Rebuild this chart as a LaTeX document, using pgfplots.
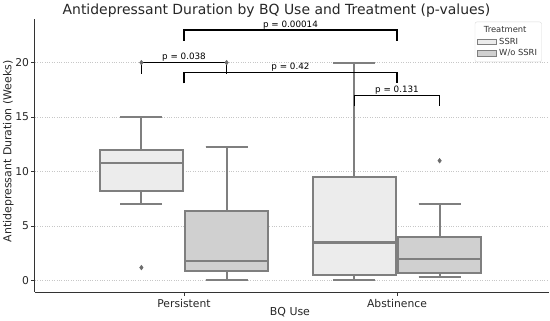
\documentclass[border=0pt]{standalone}
\usepackage{fontspec}
\setmainfont{DejaVu Sans}
\usepackage{pgfplots}
\pgfplotsset{compat=1.18}
\usepgfplotslibrary{statistics}
\definecolor{ssri}{HTML}{ECECEC}
\definecolor{wo}{HTML}{D0D0D0}
\definecolor{edge}{HTML}{7F7F7F}
\definecolor{spine}{HTML}{333333}
\begin{document}
\begin{tikzpicture}
\begin{axis}[
  at={(35bp,29bp)}, anchor=south west,
  scale only axis, width=514bp, height=273bp,
  xmin=-0.6995, xmax=1.7136, ymin=-1.04, ymax=24.0,
  boxplot/draw direction=y,
  axis x line*=bottom, axis y line*=left,
  axis line style={spine, line width=1bp},
  xtick={0,1}, xticklabels={Persistent,Abstinence},
  ytick={0,5,10,15,20},
  tick align=outside, major tick length=3.5bp,
  tick style={spine, line width=0.8bp},
  tick label style={font=\fontsize{10.8}{12}\selectfont, text=black!85},
  yticklabel style={xshift=1bp},
  /pgf/number format/assume math mode=true,
  ymajorgrids, major grid style={dotted, black!22, line width=0.7bp},
  xlabel={BQ Use}, ylabel={Antidepressant Duration (Weeks)},
  label style={font=\fontsize{11}{13}\selectfont, text=black!85},
  xlabel style={at={(axis description cs:0.496,0)}, anchor=center, yshift=-20bp},
  ylabel style={at={(axis description cs:-0.052,0.515)}, anchor=center},
  clip=false,
  legend style={at={(0.9858,0.990)}, anchor=north east, draw=black!15, rounded corners=2pt,
    font=\fontsize{8.4}{10}\selectfont, text=black!80, row sep=0pt, inner sep=2.5pt},
  legend cell align=left,
  wl/.style={draw=edge, line width=2.1bp, forget plot},
]
% legend
\addlegendimage{empty legend}
\addlegendentry{\hspace{-21pt}\makebox[54pt][c]{Treatment}}
\addlegendimage{legend image code/.code={\draw[sharp corners, draw=edge, fill=ssri, line width=0.8bp] (0bp,-2.8bp) rectangle (19bp,2.8bp);}}
\addlegendentry{SSRI}
\addlegendimage{legend image code/.code={\draw[sharp corners, draw=edge, fill=wo, line width=0.8bp] (0bp,-2.8bp) rectangle (19bp,2.8bp);}}
\addlegendentry{W/o SSRI}
% Persistent SSRI
\addplot[draw=edge, fill=ssri, line width=1.8bp, boxplot prepared={
  draw position=-0.2, box extend=0.39, whisker extend=0.197,
  lower whisker=7.0, lower quartile=8.2, median=10.8, upper quartile=12.0, upper whisker=15.0}]
  coordinates {};
\addplot[wl] coordinates {(-0.2,12.0) (-0.2,15.0)};
\addplot[wl] coordinates {(-0.2985,15.0) (-0.1015,15.0)};
\addplot[wl] coordinates {(-0.2,8.2) (-0.2,7.0)};
\addplot[wl] coordinates {(-0.2985,7.0) (-0.1015,7.0)};
\addplot[wl] coordinates {(-0.395,10.8) (-0.005,10.8)};
% Persistent W/o SSRI
\addplot[draw=edge, fill=wo, line width=1.8bp, boxplot prepared={
  draw position=0.2, box extend=0.39, whisker extend=0.197,
  lower whisker=0.1, lower quartile=0.9, median=1.8, upper quartile=6.4, upper whisker=12.3}]
  coordinates {};
\addplot[wl] coordinates {(0.2,6.4) (0.2,12.3)};
\addplot[wl] coordinates {(0.1015,12.3) (0.2985,12.3)};
\addplot[wl] coordinates {(0.2,0.9) (0.2,0.1)};
\addplot[wl] coordinates {(0.1015,0.1) (0.2985,0.1)};
\addplot[wl] coordinates {(0.005,1.8) (0.395,1.8)};
% Abstinence SSRI
\addplot[draw=edge, fill=ssri, line width=1.8bp, boxplot prepared={
  draw position=0.8, box extend=0.39, whisker extend=0.197,
  lower whisker=0.1, lower quartile=0.5, median=3.5, upper quartile=9.5, upper whisker=20.0}]
  coordinates {};
\addplot[wl] coordinates {(0.8,9.5) (0.8,20.0)};
\addplot[wl] coordinates {(0.7015,20.0) (0.8985,20.0)};
\addplot[wl] coordinates {(0.8,0.5) (0.8,0.1)};
\addplot[wl] coordinates {(0.7015,0.1) (0.8985,0.1)};
\addplot[wl] coordinates {(0.605,3.5) (0.995,3.5)};
% Abstinence W/o SSRI
\addplot[draw=edge, fill=wo, line width=1.8bp, boxplot prepared={
  draw position=1.2, box extend=0.39, whisker extend=0.197,
  lower whisker=0.3, lower quartile=0.7, median=2.0, upper quartile=4.0, upper whisker=7.0}]
  coordinates {};
\addplot[wl] coordinates {(1.2,4.0) (1.2,7.0)};
\addplot[wl] coordinates {(1.1015,7.0) (1.2985,7.0)};
\addplot[wl] coordinates {(1.2,0.7) (1.2,0.3)};
\addplot[wl] coordinates {(1.1015,0.3) (1.2985,0.3)};
\addplot[wl] coordinates {(1.005,2.0) (1.395,2.0)};
% outliers
\addplot[only marks, mark=diamond*, mark size=2.4bp, mark options={fill=edge!85!black, draw=edge!85!black}]
  coordinates {(-0.2,1.2) (-0.2,20) (0.2,20) (1.2,11.0)};
% brackets
\addplot[black, line width=1.3bp] coordinates {(-0.2,19.0) (-0.2,20.0) (0.2,20.0) (0.2,19.0)};
\addplot[black, line width=1.3bp] coordinates {(0,18.1) (0,19.1) (1,19.1) (1,18.1)};
\addplot[black, line width=1.3bp] coordinates {(0.8,16.0) (0.8,17.0) (1.2,17.0) (1.2,16.0)};
\addplot[black, line width=1.3bp] coordinates {(0,22.0) (0,23.0) (1,23.0) (1,22.0)};
\node[above, inner sep=0.8pt, font=\fontsize{8.8}{10}\selectfont] at (axis cs:0,20.0) {p = 0.038};
\node[above, inner sep=0.8pt, font=\fontsize{8.8}{10}\selectfont] at (axis cs:0.5,19.1) {p = 0.42};
\node[above, inner sep=0.8pt, font=\fontsize{8.8}{10}\selectfont] at (axis cs:1.0,17.0) {p = 0.131};
\node[above, inner sep=0.8pt, font=\fontsize{8.8}{10}\selectfont] at (axis cs:0.5,23.0) {p = 0.00014};
\end{axis}
\node[font=\fontsize{14}{16}\selectfont, text=black!85] at (276.5bp,310bp) {Antidepressant Duration by BQ Use and Treatment (p-values)};
\pgfresetboundingbox
\useasboundingbox (0,0) rectangle (550bp,321bp);
\end{tikzpicture}
\end{document}
